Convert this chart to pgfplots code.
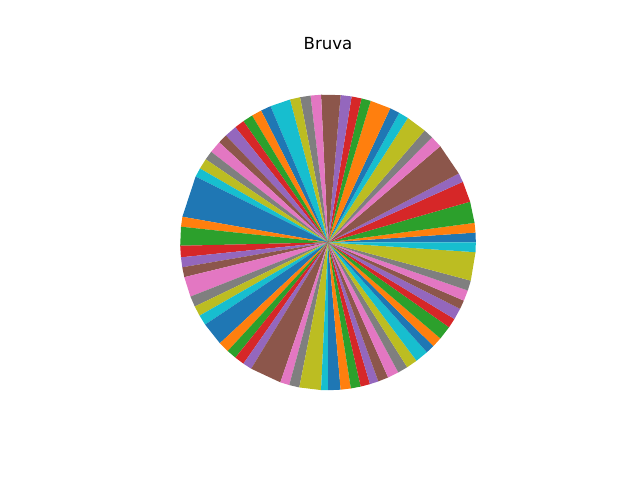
\documentclass[border=0pt]{standalone}
\usepackage{pgfplots}
\pgfplotsset{compat=1.18}
\usepackage{fontspec}
\setmainfont{DejaVu Sans}
\definecolor{c1}{HTML}{1F77B4}
\definecolor{c2}{HTML}{FF7F0E}
\definecolor{c3}{HTML}{2CA02C}
\definecolor{c4}{HTML}{D62728}
\definecolor{c5}{HTML}{9467BD}
\definecolor{c6}{HTML}{8C564B}
\definecolor{c7}{HTML}{E377C2}
\definecolor{c8}{HTML}{7F7F7F}
\definecolor{c9}{HTML}{BCBD22}
\definecolor{c0}{HTML}{17BECF}
\begin{document}
\begin{tikzpicture}
\begin{axis}[
  width=6.4in, height=4.8in, scale only axis,
  xmin=-2.2186, xmax=2.1104, ymin=-1.6071, ymax=1.6396,
  axis lines=none, ticks=none, clip=false,
  data cs=polar,
]
\path (rel axis cs:0,0) rectangle (rel axis cs:1,1);
\addplot[fill=c1, draw=none] coordinates {(0,0) (0,1) (3.8,1)};
\addplot[fill=c2, draw=none] coordinates {(0,0) (3.8,1) (7.6,1)};
\addplot[fill=c3, draw=none] coordinates {(0,0) (7.6,1) (16.0,1)};
\addplot[fill=c4, draw=none] coordinates {(0,0) (16.0,1) (24.2,1)};
\addplot[fill=c5, draw=none] coordinates {(0,0) (24.2,1) (27.8,1)};
\addplot[fill=c6, draw=none] coordinates {(0,0) (27.8,1) (40.6,1)};
\addplot[fill=c7, draw=none] coordinates {(0,0) (40.6,1) (45.3,1)};
\addplot[fill=c8, draw=none] coordinates {(0,0) (45.3,1) (49.2,1)};
\addplot[fill=c9, draw=none] coordinates {(0,0) (49.2,1) (57.3,1)};
\addplot[fill=c0, draw=none] coordinates {(0,0) (57.3,1) (61.2,1)};
\addplot[fill=c1, draw=none] coordinates {(0,0) (61.2,1) (65.1,1)};
\addplot[fill=c2, draw=none] coordinates {(0,0) (65.1,1) (73.2,1)};
\addplot[fill=c3, draw=none] coordinates {(0,0) (73.2,1) (76.9,1)};
\addplot[fill=c4, draw=none] coordinates {(0,0) (76.9,1) (80.8,1)};
\addplot[fill=c5, draw=none] coordinates {(0,0) (80.8,1) (85.1,1)};
\addplot[fill=c6, draw=none] coordinates {(0,0) (85.1,1) (92.7,1)};
\addplot[fill=c7, draw=none] coordinates {(0,0) (92.7,1) (96.8,1)};
\addplot[fill=c8, draw=none] coordinates {(0,0) (96.8,1) (100.9,1)};
\addplot[fill=c9, draw=none] coordinates {(0,0) (100.9,1) (104.9,1)};
\addplot[fill=c0, draw=none] coordinates {(0,0) (104.9,1) (112.9,1)};
\addplot[fill=c1, draw=none] coordinates {(0,0) (112.9,1) (116.9,1)};
\addplot[fill=c2, draw=none] coordinates {(0,0) (116.9,1) (120.9,1)};
\addplot[fill=c3, draw=none] coordinates {(0,0) (120.9,1) (124.9,1)};
\addplot[fill=c4, draw=none] coordinates {(0,0) (124.9,1) (128.8,1)};
\addplot[fill=c5, draw=none] coordinates {(0,0) (128.8,1) (133.7,1)};
\addplot[fill=c6, draw=none] coordinates {(0,0) (133.7,1) (137.4,1)};
\addplot[fill=c7, draw=none] coordinates {(0,0) (137.4,1) (142.2,1)};
\addplot[fill=c8, draw=none] coordinates {(0,0) (142.2,1) (145.8,1)};
\addplot[fill=c9, draw=none] coordinates {(0,0) (145.8,1) (150.0,1)};
\addplot[fill=c0, draw=none] coordinates {(0,0) (150.0,1) (153.6,1)};
\addplot[fill=c1, draw=none] coordinates {(0,0) (153.6,1) (170.0,1)};
\addplot[fill=c2, draw=none] coordinates {(0,0) (170.0,1) (173.9,1)};
\addplot[fill=c3, draw=none] coordinates {(0,0) (173.9,1) (181.3,1)};
\addplot[fill=c4, draw=none] coordinates {(0,0) (181.3,1) (185.8,1)};
\addplot[fill=c5, draw=none] coordinates {(0,0) (185.8,1) (189.7,1)};
\addplot[fill=c6, draw=none] coordinates {(0,0) (189.7,1) (193.6,1)};
\addplot[fill=c7, draw=none] coordinates {(0,0) (193.6,1) (201.5,1)};
\addplot[fill=c8, draw=none] coordinates {(0,0) (201.5,1) (205.7,1)};
\addplot[fill=c9, draw=none] coordinates {(0,0) (205.7,1) (209.7,1)};
\addplot[fill=c0, draw=none] coordinates {(0,0) (209.7,1) (213.8,1)};
\addplot[fill=c1, draw=none] coordinates {(0,0) (213.8,1) (223.0,1)};
\addplot[fill=c2, draw=none] coordinates {(0,0) (223.0,1) (227.3,1)};
\addplot[fill=c3, draw=none] coordinates {(0,0) (227.3,1) (231.2,1)};
\addplot[fill=c4, draw=none] coordinates {(0,0) (231.2,1) (235.1,1)};
\addplot[fill=c5, draw=none] coordinates {(0,0) (235.1,1) (238.7,1)};
\addplot[fill=c6, draw=none] coordinates {(0,0) (238.7,1) (251.2,1)};
\addplot[fill=c7, draw=none] coordinates {(0,0) (251.2,1) (254.8,1)};
\addplot[fill=c8, draw=none] coordinates {(0,0) (254.8,1) (258.8,1)};
\addplot[fill=c9, draw=none] coordinates {(0,0) (258.8,1) (267.3,1)};
\addplot[fill=c0, draw=none] coordinates {(0,0) (267.3,1) (270.0,1)};
\addplot[fill=c1, draw=none] coordinates {(0,0) (270.0,1) (274.9,1)};
\addplot[fill=c2, draw=none] coordinates {(0,0) (274.9,1) (278.9,1)};
\addplot[fill=c3, draw=none] coordinates {(0,0) (278.9,1) (282.8,1)};
\addplot[fill=c4, draw=none] coordinates {(0,0) (282.8,1) (286.5,1)};
\addplot[fill=c5, draw=none] coordinates {(0,0) (286.5,1) (289.9,1)};
\addplot[fill=c6, draw=none] coordinates {(0,0) (289.9,1) (294.0,1)};
\addplot[fill=c7, draw=none] coordinates {(0,0) (294.0,1) (298.4,1)};
\addplot[fill=c8, draw=none] coordinates {(0,0) (298.4,1) (302.4,1)};
\addplot[fill=c9, draw=none] coordinates {(0,0) (302.4,1) (306.8,1)};
\addplot[fill=c0, draw=none] coordinates {(0,0) (306.8,1) (312.0,1)};
\addplot[fill=c1, draw=none] coordinates {(0,0) (312.0,1) (315.5,1)};
\addplot[fill=c2, draw=none] coordinates {(0,0) (315.5,1) (319.5,1)};
\addplot[fill=c3, draw=none] coordinates {(0,0) (319.5,1) (325.0,1)};
\addplot[fill=c4, draw=none] coordinates {(0,0) (325.0,1) (328.8,1)};
\addplot[fill=c5, draw=none] coordinates {(0,0) (328.8,1) (333.3,1)};
\addplot[fill=c6, draw=none] coordinates {(0,0) (333.3,1) (336.8,1)};
\addplot[fill=c7, draw=none] coordinates {(0,0) (336.8,1) (341.0,1)};
\addplot[fill=c8, draw=none] coordinates {(0,0) (341.0,1) (345.0,1)};
\addplot[fill=c9, draw=none] coordinates {(0,0) (345.0,1) (356.2,1)};
\addplot[fill=c0, draw=none] coordinates {(0,0) (356.2,1) (360.0,1)};
\node[anchor=base, font=\fontsize{12}{14}\selectfont] at (rel axis cs:0.5125,0.8973) {Bruva};
\end{axis}
\end{tikzpicture}
\end{document}
